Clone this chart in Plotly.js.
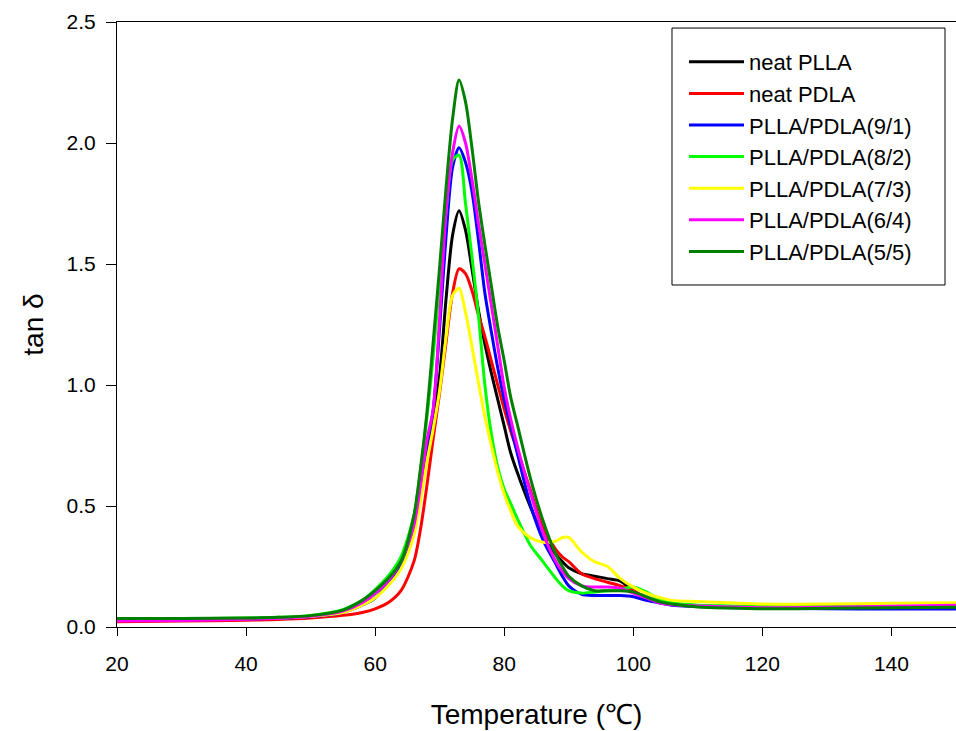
<!DOCTYPE html>
<html>
<head>
<meta charset="utf-8">
<script src="https://cdn.plot.ly/plotly-3.0.1.min.js"></script>
<style>html,body{margin:0;padding:0;background:#fff;}#chart{width:956px;height:731px;}</style>
</head>
<body>
<div id="chart"></div>
<script>
// Temperature grid (°C)
const temperature = [20, 30, 40, 45, 50, 55, 58, 60, 62, 64, 66, 67, 68, 69, 70, 71, 72, 73, 74, 75, 76, 77, 78, 79, 80, 81, 82, 84, 86, 88, 89, 90, 92, 94, 96, 98, 100, 102, 104, 106, 110, 115, 120, 130, 140, 150];

const seriesNames = ["neat PLLA", "neat PDLA", "PLLA/PDLA(9/1)", "PLLA/PDLA(8/2)", "PLLA/PDLA(7/3)", "PLLA/PDLA(6/4)", "PLLA/PDLA(5/5)"];
const seriesColors = ["#000000", "#ff0000", "#0000ff", "#00ff00", "#ffff00", "#ff00ff", "#008000"];

const neatPLLA = [0.030, 0.032, 0.035, 0.038, 0.045, 0.066, 0.10, 0.14, 0.19, 0.27, 0.42, 0.56, 0.72, 0.85, 1.04, 1.36, 1.62, 1.72, 1.64, 1.48, 1.31, 1.17, 1.05, 0.94, 0.83, 0.72, 0.64, 0.50, 0.38, 0.30, 0.27, 0.245, 0.22, 0.21, 0.20, 0.19, 0.15, 0.12, 0.105, 0.095, 0.088, 0.083, 0.080, 0.080, 0.082, 0.085];
const neatPDLA = [0.022, 0.025, 0.028, 0.031, 0.037, 0.048, 0.060, 0.075, 0.10, 0.15, 0.27, 0.40, 0.58, 0.78, 0.97, 1.18, 1.38, 1.48, 1.46, 1.39, 1.29, 1.20, 1.10, 1.00, 0.90, 0.81, 0.73, 0.57, 0.41, 0.32, 0.29, 0.27, 0.22, 0.20, 0.185, 0.17, 0.15, 0.12, 0.10, 0.092, 0.086, 0.082, 0.080, 0.080, 0.083, 0.085];
const blend91 = [0.028, 0.030, 0.033, 0.036, 0.042, 0.060, 0.090, 0.12, 0.18, 0.26, 0.41, 0.56, 0.74, 0.90, 1.24, 1.62, 1.90, 1.98, 1.92, 1.80, 1.60, 1.38, 1.22, 1.07, 0.94, 0.83, 0.72, 0.51, 0.36, 0.26, 0.21, 0.17, 0.135, 0.13, 0.13, 0.13, 0.125, 0.11, 0.10, 0.090, 0.085, 0.080, 0.078, 0.075, 0.074, 0.074];
const blend82 = [0.033, 0.034, 0.037, 0.040, 0.048, 0.072, 0.11, 0.155, 0.21, 0.29, 0.46, 0.64, 0.86, 1.12, 1.43, 1.72, 1.93, 1.95, 1.75, 1.53, 1.29, 1.00, 0.80, 0.66, 0.57, 0.51, 0.45, 0.34, 0.27, 0.20, 0.17, 0.15, 0.14, 0.145, 0.15, 0.155, 0.165, 0.145, 0.115, 0.10, 0.090, 0.087, 0.085, 0.085, 0.085, 0.085];
const blend73 = [0.030, 0.031, 0.034, 0.037, 0.043, 0.060, 0.090, 0.12, 0.17, 0.24, 0.38, 0.52, 0.68, 0.82, 0.98, 1.20, 1.37, 1.40, 1.30, 1.16, 1.01, 0.87, 0.75, 0.64, 0.55, 0.48, 0.42, 0.37, 0.35, 0.355, 0.37, 0.37, 0.31, 0.27, 0.25, 0.20, 0.165, 0.14, 0.122, 0.11, 0.105, 0.10, 0.095, 0.095, 0.098, 0.10];
const blend64 = [0.025, 0.027, 0.032, 0.036, 0.044, 0.066, 0.10, 0.14, 0.19, 0.27, 0.42, 0.58, 0.77, 0.90, 1.28, 1.72, 1.96, 2.07, 2.00, 1.85, 1.67, 1.50, 1.33, 1.16, 0.99, 0.86, 0.75, 0.56, 0.39, 0.27, 0.23, 0.20, 0.17, 0.165, 0.165, 0.16, 0.14, 0.12, 0.10, 0.092, 0.087, 0.083, 0.080, 0.082, 0.086, 0.090];
const blend55 = [0.035, 0.035, 0.037, 0.040, 0.047, 0.070, 0.11, 0.15, 0.20, 0.27, 0.46, 0.65, 0.88, 1.18, 1.49, 1.82, 2.10, 2.26, 2.17, 1.98, 1.76, 1.58, 1.41, 1.24, 1.10, 0.95, 0.84, 0.62, 0.44, 0.30, 0.25, 0.21, 0.17, 0.15, 0.15, 0.15, 0.145, 0.125, 0.105, 0.095, 0.083, 0.078, 0.075, 0.077, 0.080, 0.082];

const seriesValues = [neatPLLA, neatPDLA, blend91, blend82, blend73, blend64, blend55];
const xTicks = [20, 40, 60, 80, 100, 120, 140];
const yTicks = [0.0, 0.5, 1.0, 1.5, 2.0, 2.5];

const traces = seriesNames.map((name, i) => ({
  x: temperature,
  y: seriesValues[i],
  name: name,
  type: "scatter",
  mode: "lines",
  line: {color: seriesColors[i], width: 3, shape: "spline", smoothing: 0.8}
}));

const font = "Liberation Sans, Arial, sans-serif";
const layout = {
  width: 956, height: 731,
  margin: {l: 117, r: 0, t: 22, b: 104},
  paper_bgcolor: "#ffffff", plot_bgcolor: "#ffffff",
  font: {family: font, color: "#000", size: 21},
  showlegend: true,
  legend: {
    x: 0.6758, y: 0.9686, xanchor: "left", yanchor: "top",
    borderwidth: 0, bgcolor: "rgba(0,0,0,0)",
    font: {family: font, size: 22, color: "#000"},
    itemwidth: 55, traceorder: "normal"
  },
  shapes: [{
    type: "rect", xref: "paper", yref: "paper",
    x0: 0.6615, x1: 0.9869, y0: 0.5653, y1: 0.990,
    line: {color: "#000", width: 1}, fillcolor: "#ffffff", layer: "above"
  }],
  xaxis: {
    range: [20, 150], tickvals: xTicks, ticks: "outside", ticklen: 8, tickwidth: 1,
    tickcolor: "#000", showline: true, linecolor: "#000", linewidth: 1, mirror: true,
    showgrid: false, zeroline: false, tickfont: {family: font, size: 21},
    ticklabelstandoff: 10,
    title: {text: "Temperature (℃)", font: {family: font, size: 28}, standoff: 30}
  },
  yaxis: {
    range: [0, 2.5], tickvals: yTicks, tickformat: ".1f", ticks: "outside", ticklen: 10,
    tickwidth: 1, tickcolor: "#000", showline: true, linecolor: "#000", linewidth: 1,
    showgrid: false, zeroline: false, tickfont: {family: font, size: 21},
    ticklabelstandoff: 6,
    title: {text: "tan δ", font: {family: font, size: 28}, standoff: 14}
  }
};

Plotly.newPlot("chart", traces, layout, {staticPlot: true, displayModeBar: false});
</script>
</body>
</html>
